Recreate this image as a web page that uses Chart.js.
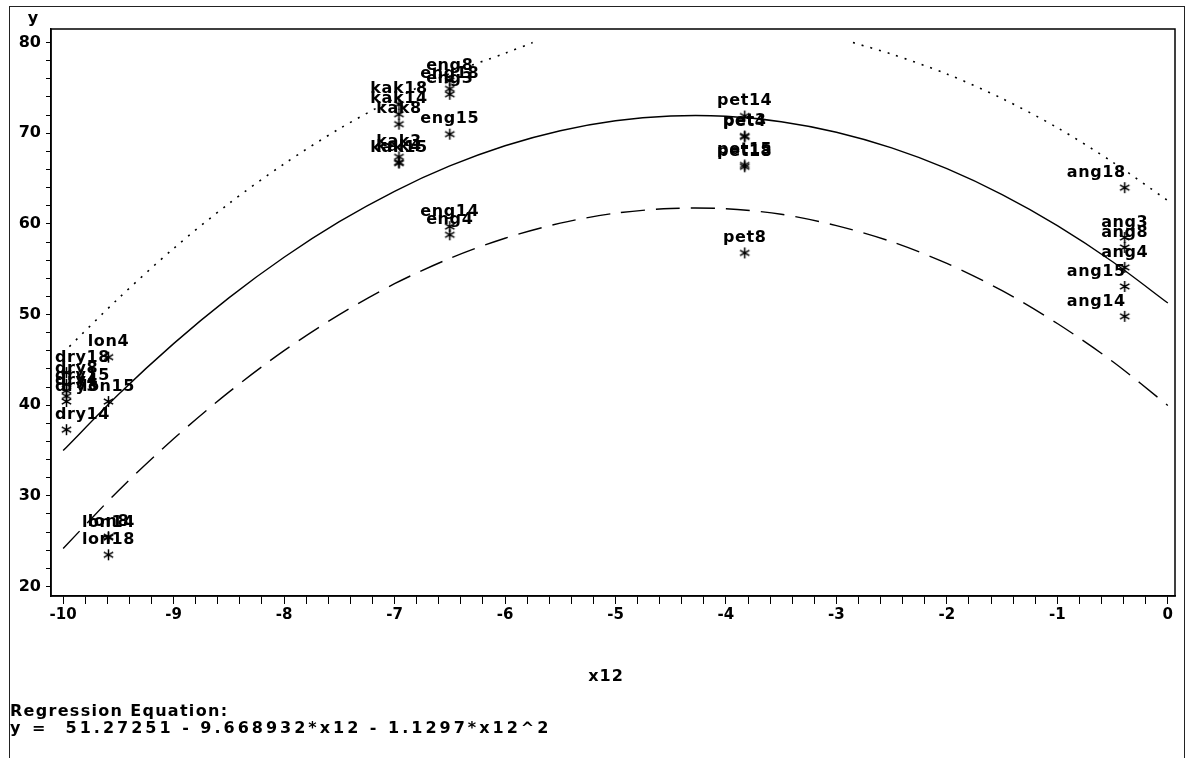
<!DOCTYPE html>
<html>
<head>
<meta charset="utf-8">
<script src="https://cdn.jsdelivr.net/npm/chart.js@4"></script>
<style>
  html, body { margin: 0; padding: 0; background: #fff; }
  canvas { display: block; }
</style>
</head>
<body>
<canvas id="chart" width="1190" height="758"></canvas>
<script>
// observed points: label, x12, y
const pointLabels = ['dry3', 'dry4', 'dry8', 'dry14', 'dry15', 'dry18',
  'lon4', 'lon8', 'lon14', 'lon15', 'lon18',
  'kak3', 'kak4', 'kak8', 'kak14', 'kak15', 'kak18',
  'eng3', 'eng4', 'eng8', 'eng14', 'eng15', 'eng18',
  'pet3', 'pet4', 'pet8', 'pet14', 'pet15', 'pet18',
  'ang3', 'ang4', 'ang8', 'ang14', 'ang15', 'ang18'];
const pointX = [-9.97, -9.97, -9.97, -9.97, -9.97, -9.97,
  -9.59, -9.59, -9.59, -9.59, -9.59,
  -6.96, -6.96, -6.96, -6.96, -6.96, -6.96,
  -6.50, -6.50, -6.50, -6.50, -6.50, -6.50,
  -3.83, -3.83, -3.83, -3.83, -3.83, -3.83,
  -0.39, -0.39, -0.39, -0.39, -0.39, -0.39];
const pointY = [40.4, 41.0, 42.3, 37.3, 41.6, 43.6,
  45.3, 25.5, 25.4, 40.4, 23.5,
  67.4, 66.8, 71.0, 72.1, 66.7, 73.2,
  74.3, 58.8, 75.8, 59.7, 69.9, 74.9,
  69.7, 69.6, 56.8, 71.9, 66.5, 66.3,
  58.5, 55.2, 57.4, 49.8, 53.1, 64.0];
// labels that sit to the left of their star
const leftLabels = ['ang18', 'ang15', 'ang14'];

// fitted curve and its lower / upper bands
const curveX = [-10, -9.5, -9, -8.5, -8, -7.5, -7, -6.5, -6, -5.5, -5,
  -4.5, -4, -3.5, -3, -2.5, -2, -1.5, -1, -0.5, 0];
const fitY = [34.99, 41.17, 46.79, 51.84, 56.32, 60.24, 63.60, 66.39, 68.62, 70.28, 71.38,
  71.90, 71.87, 71.27, 70.11, 68.38, 66.09, 63.23, 59.81, 55.82, 51.27];
const lowerY = [24.19, 30.57, 36.29, 41.44, 46.02, 49.99, 53.40, 56.19, 58.42, 60.08, 61.18,
  61.70, 61.67, 61.07, 59.81, 58.03, 55.64, 52.63, 49.01, 44.82, 39.97];
const upperX = [-10, -9.5, -9, -8.5, -8, -7.5, -7, -6.5, -6, -5.75, -4.3,
  -2.85, -2.5, -2, -1.5, -1, -0.5, 0];
const upperY = [45.79, 51.77, 57.29, 62.24, 66.62, 70.49, 73.80, 76.59, 78.82, 80.0, null,
  80.0, 78.73, 76.54, 73.83, 70.61, 66.82, 62.57];

const yTickLabels = [20, 30, 40, 50, 60, 70, 80];
const xTickLabels = [-10, -9, -8, -7, -6, -5, -4, -3, -2, -1, 0];

const yTitle = 'y';
const xTitle = 'x12';
const equationLines = ['Regression Equation:', 'y =  51.27251 - 9.668932*x12 - 1.1297*x12^2'];

const FONT = '"DejaVu Sans", sans-serif';

// asterisk marker
function makeStar() {
  const c = document.createElement('canvas');
  c.width = 13; c.height = 13;
  const g = c.getContext('2d');
  g.strokeStyle = '#000';
  g.lineWidth = 1.5;
  g.beginPath();
  g.moveTo(6.5, 1); g.lineTo(6.5, 12);
  g.moveTo(1.8, 3.8); g.lineTo(11.2, 9.2);
  g.moveTo(1.8, 9.2); g.lineTo(11.2, 3.8);
  g.stroke();
  return c;
}

const toXY = (xs, ys) => xs.map((x, i) => ({ x: x, y: ys[i] }));

const xMinor = [];
for (let i = 0; i <= 50; i++) xMinor.push(Math.round((i * 0.2 - 10) * 10) / 10);
const yMinor = [];
for (let v = 20; v <= 80; v += 2) yMinor.push(v);

const decor = {
  id: 'decor',
  afterDraw(chart) {
    const ctx = chart.ctx;
    const a = chart.chartArea;
    ctx.save();
    // outer frame
    ctx.strokeStyle = '#222';
    ctx.lineWidth = 1;
    ctx.strokeRect(9.5, 6.5, 1175, 800);
    // plot frame
    ctx.strokeStyle = '#000';
    ctx.lineWidth = 1.5;
    ctx.strokeRect(a.left, a.top, a.right - a.left, a.bottom - a.top);

    ctx.fillStyle = '#000';
    ctx.font = 'bold 16px ' + FONT;
    ctx.textBaseline = 'middle';
    ctx.textAlign = 'center';
    ctx.fillText(yTitle, 33, 19);
    ctx.letterSpacing = '1px';
    ctx.fillText(xTitle, 606, 677);
    ctx.textAlign = 'left';
    ctx.letterSpacing = '1.3px';
    ctx.fillText(equationLines[0], 10, 712);
    ctx.letterSpacing = '3px';
    ctx.fillText(equationLines[1], 10, 729);
    ctx.restore();
  },
  afterDatasetsDraw(chart) {
    const meta = chart.getDatasetMeta(3);
    const a = chart.chartArea;
    const ctx = chart.ctx;
    ctx.save();
    ctx.font = 'bold 16px ' + FONT;
    ctx.letterSpacing = '0.6px';
    ctx.fillStyle = '#000';
    ctx.textBaseline = 'middle';
    ctx.textAlign = 'left';
    meta.data.forEach((pt, i) => {
      const name = pointLabels[i];
      const w = ctx.measureText(name).width;
      let left = leftLabels.includes(name) ? pt.x + 1 - w : pt.x - w / 2;
      // keep labels inside the plot frame
      left = Math.max(left, a.left + 4);
      left = Math.min(left, a.right - 4 - w);
      ctx.fillText(name, left, pt.y - 15);
    });
    ctx.restore();
  }
};

new Chart(document.getElementById('chart'), {
  type: 'scatter',
  data: {
    datasets: [
      {
        type: 'line', data: toXY(curveX, fitY),
        borderColor: '#000', borderWidth: 1.4, pointRadius: 0, tension: 0.3
      },
      {
        type: 'line', data: toXY(curveX, lowerY),
        borderColor: '#000', borderWidth: 1.4, borderDash: [24, 11], pointRadius: 0, tension: 0.3
      },
      {
        type: 'line', data: toXY(upperX, upperY),
        borderColor: '#000', borderWidth: 1.6, borderDash: [2, 7], pointRadius: 0, tension: 0.3,
        spanGaps: false
      },
      {
        data: toXY(pointX, pointY),
        pointStyle: makeStar(), pointRadius: 6, showLine: false
      }
    ]
  },
  options: {
    responsive: false,
    animation: false,
    layout: { padding: { top: 29, right: 15, left: 0, bottom: 0 } },
    plugins: { legend: { display: false }, tooltip: { enabled: false } },
    scales: {
      x: {
        type: 'linear', min: -10.11, max: 0.065,
        afterFit: s => { s.height = 758 - 596; },
        afterBuildTicks: s => { s.ticks = xMinor.map(v => ({ value: v })); },
        grid: { drawOnChartArea: false, color: '#000', tickLength: 8, lineWidth: 1 },
        border: { display: true, color: '#000', width: 1.5 },
        ticks: {
          autoSkip: false, maxRotation: 0, padding: 2, color: '#000',
          font: { family: FONT, size: 15, weight: 'bold' },
          callback: v => {
            const r = Math.round(v);
            return (Math.abs(v - r) < 1e-6 && xTickLabels.includes(r)) ? String(r) : '';
          }
        }
      },
      y: {
        type: 'linear', min: 18.95, max: 81.5,
        afterFit: s => { s.width = 51; },
        afterBuildTicks: s => { s.ticks = yMinor.map(v => ({ value: v })); },
        grid: { drawOnChartArea: false, color: '#000', tickLength: 5, lineWidth: 1 },
        border: { display: true, color: '#000', width: 1.5 },
        ticks: {
          autoSkip: false, padding: 5, color: '#000',
          font: { family: FONT, size: 16, weight: 'bold' },
          callback: v => yTickLabels.includes(v) ? String(v) : ''
        }
      }
    }
  },
  plugins: [decor]
});
</script>
</body>
</html>
